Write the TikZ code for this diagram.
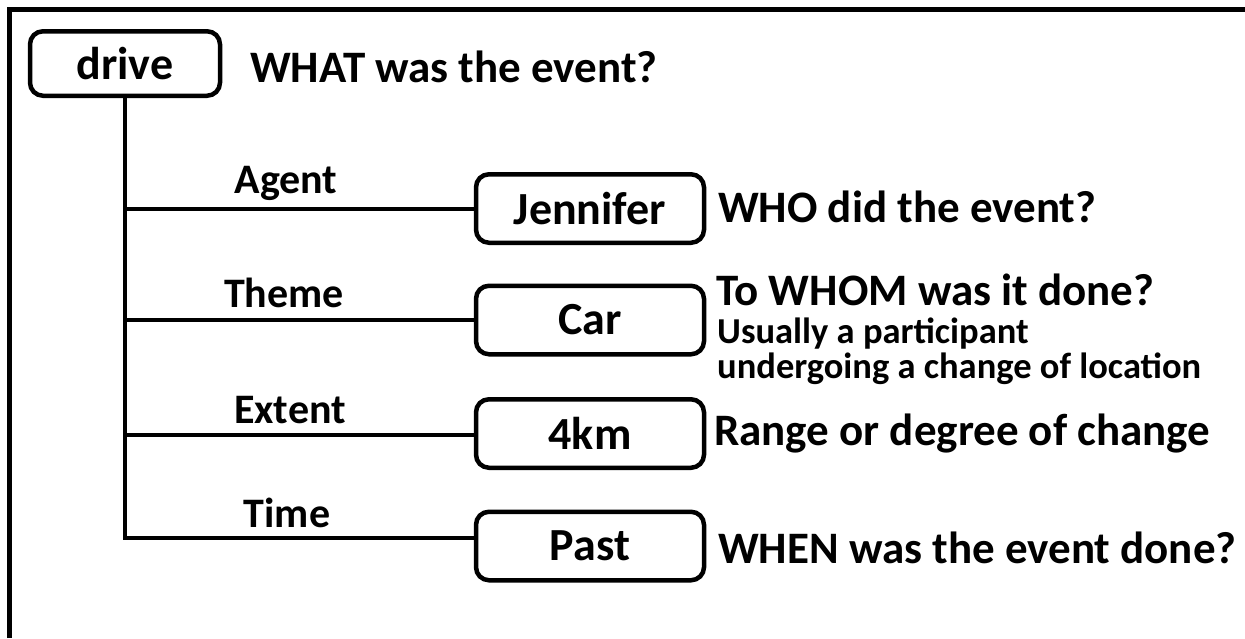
\documentclass[tikz,border=0pt]{standalone}
\usepackage{fontspec}
\setmainfont{Carlito}
\begin{document}
\begin{tikzpicture}[x=1pt,y=-1pt,
  rolebox/.style={draw, line width=4.5pt, rounded corners=13pt, minimum width=228pt,
    minimum height=68.5pt, inner sep=0pt, font=\fontsize{46}{50}\selectfont\bfseries},
  link/.style={line width=4pt},
  rolelabel/.style={anchor=base, inner sep=0pt, font=\fontsize{42}{46}\selectfont\bfseries},
  question/.style={anchor=base west, inner sep=0pt, font=\fontsize{45}{50}\selectfont\bfseries},
  note/.style={anchor=base west, inner sep=0pt, font=\fontsize{36.5}{40}\selectfont\bfseries}]
  \useasboundingbox (0,0) rectangle (1245,638);
  % frame edges
  \draw[line width=5pt] (9.5,638) -- (9.5,9.5) -- (1245,9.5);
  % event node
  \node[rolebox, minimum width=190pt, minimum height=64.5pt] (drive) at (125,63.5) {drive};
  \node[question] (qwhat) at (250,82) {WHAT was the event?};
  % argument nodes
  \node[rolebox] (jen) at (590,208.5) {Jennifer};
  \node[rolebox] (car) at (590,320) {Car};
  \node[rolebox] (km) at (590,433.5) {4km};
  \node[rolebox] (past) at (590,546) {Past};
  % trunk and branches
  \coordinate (trunk) at (drive.south);
  \coordinate (pastin) at ([yshift=8pt]past.west);
  \draw[link] (trunk) -- (trunk |- pastin) -- (pastin);
  \draw[link] (trunk |- jen.west) -- (jen.west);
  \draw[link] (trunk |- car.west) -- (car.west);
  \draw[link] ([yshift=-1.5pt]trunk |- km.west) -- ([yshift=-1.5pt]km.west);
  % role labels
  \node[rolelabel] (lagent) at (286,193) {Agent};
  \node[rolelabel] (ltheme) at (284,307) {Theme};
  \node[rolelabel] (lextent) at (290,423) {Extent};
  \node[rolelabel] (ltime) at (287,527) {Time};
  % questions
  \node[question] (qwho) at (718,222) {WHO did the event?};
  \node[question] (qwhom) at (716,305) {To WHOM was it done?};
  \node[note] (n1) at (717,343) {Usually a participant};
  \node[note] (n2) at (717,378) {undergoing a change of location};
  \node[question] (qrange) at (714,445) {Range or degree of change};
  \node[question] (qwhen) at (718,563) {WHEN was the event done?};
\end{tikzpicture}
\end{document}
